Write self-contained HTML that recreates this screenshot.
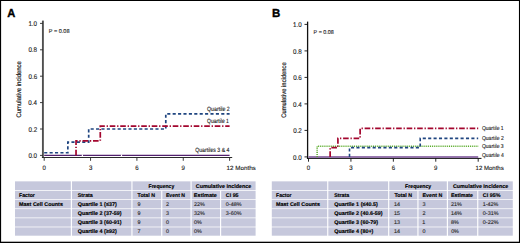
<!DOCTYPE html>
<html><head><meta charset="utf-8"><style>
html,body{margin:0;padding:0;background:#fff;}
body{width:520px;height:243px;overflow:hidden;}
svg{display:block;font-family:"Liberation Sans", sans-serif;text-rendering:geometricPrecision;}
</style></head><body>
<svg width="520" height="243" viewBox="0 0 520 243">
<rect x="0" y="0" width="520" height="243" fill="#fff"/>
<text x="7.17" y="17.05" font-size="11.6" font-weight="bold" fill="#000" stroke="#000" stroke-width="0.35" textLength="8.08" lengthAdjust="spacingAndGlyphs">A</text>
<line x1="42.90" y1="20.60" x2="42.90" y2="157.90" stroke="#505050" stroke-width="1.9" />
<line x1="41.95" y1="157.50" x2="232.20" y2="157.50" stroke="#2a2a2a" stroke-width="1.0" />
<line x1="40.00" y1="155.40" x2="42.90" y2="155.40" stroke="#2a2a2a" stroke-width="0.9" />
<text x="28.40" y="158.00" font-size="6.8" font-weight="normal" fill="#1a1a1a" stroke="#1a1a1a" stroke-width="0.12" textLength="8.70" lengthAdjust="spacingAndGlyphs">0.0</text>
<line x1="40.00" y1="129.00" x2="42.90" y2="129.00" stroke="#2a2a2a" stroke-width="0.9" />
<text x="28.47" y="131.60" font-size="6.8" font-weight="normal" fill="#1a1a1a" stroke="#1a1a1a" stroke-width="0.12" textLength="8.70" lengthAdjust="spacingAndGlyphs">0.2</text>
<line x1="40.00" y1="102.60" x2="42.90" y2="102.60" stroke="#2a2a2a" stroke-width="0.9" />
<text x="28.34" y="105.20" font-size="6.8" font-weight="normal" fill="#1a1a1a" stroke="#1a1a1a" stroke-width="0.12" textLength="8.70" lengthAdjust="spacingAndGlyphs">0.4</text>
<line x1="40.00" y1="76.20" x2="42.90" y2="76.20" stroke="#2a2a2a" stroke-width="0.9" />
<text x="28.44" y="78.80" font-size="6.8" font-weight="normal" fill="#1a1a1a" stroke="#1a1a1a" stroke-width="0.12" textLength="8.70" lengthAdjust="spacingAndGlyphs">0.6</text>
<line x1="40.00" y1="49.80" x2="42.90" y2="49.80" stroke="#2a2a2a" stroke-width="0.9" />
<text x="28.40" y="52.40" font-size="6.8" font-weight="normal" fill="#1a1a1a" stroke="#1a1a1a" stroke-width="0.12" textLength="8.70" lengthAdjust="spacingAndGlyphs">0.8</text>
<line x1="40.00" y1="23.40" x2="42.90" y2="23.40" stroke="#2a2a2a" stroke-width="0.9" />
<text x="28.40" y="26.00" font-size="6.8" font-weight="normal" fill="#1a1a1a" stroke="#1a1a1a" stroke-width="0.12" textLength="8.70" lengthAdjust="spacingAndGlyphs">1.0</text>
<line x1="44.20" y1="157.50" x2="44.20" y2="160.80" stroke="#2a2a2a" stroke-width="0.9" />
<text x="42.51" y="170.20" font-size="6.4" font-weight="normal" fill="#1a1a1a" stroke="#1a1a1a" stroke-width="0.12" textLength="3.38" lengthAdjust="spacingAndGlyphs">0</text>
<line x1="90.55" y1="157.50" x2="90.55" y2="160.80" stroke="#2a2a2a" stroke-width="0.9" />
<text x="88.88" y="170.20" font-size="6.4" font-weight="normal" fill="#1a1a1a" stroke="#1a1a1a" stroke-width="0.12" textLength="3.38" lengthAdjust="spacingAndGlyphs">3</text>
<line x1="136.90" y1="157.50" x2="136.90" y2="160.80" stroke="#2a2a2a" stroke-width="0.9" />
<text x="135.20" y="170.20" font-size="6.4" font-weight="normal" fill="#1a1a1a" stroke="#1a1a1a" stroke-width="0.12" textLength="3.38" lengthAdjust="spacingAndGlyphs">6</text>
<line x1="183.25" y1="157.50" x2="183.25" y2="160.80" stroke="#2a2a2a" stroke-width="0.9" />
<text x="181.56" y="170.20" font-size="6.4" font-weight="normal" fill="#1a1a1a" stroke="#1a1a1a" stroke-width="0.12" textLength="3.38" lengthAdjust="spacingAndGlyphs">9</text>
<line x1="229.60" y1="157.50" x2="229.60" y2="160.80" stroke="#2a2a2a" stroke-width="0.9" />
<text x="226.58" y="170.10" font-size="6.0" font-weight="normal" fill="#1a1a1a" stroke="#1a1a1a" stroke-width="0.12" textLength="29.18" lengthAdjust="spacingAndGlyphs">12 Months</text>
<text x="0" y="0" font-size="6.6" fill="#1a1a1a" stroke="#1a1a1a" stroke-width="0.18" textLength="56.26" lengthAdjust="spacingAndGlyphs" transform="translate(21.30,117.45) rotate(-90)">Cumulative incidence</text>
<text x="48.81" y="33.30" font-size="5.6" font-weight="normal" fill="#2a2a2a" stroke="#2a2a2a" stroke-width="0.12" textLength="20.77" lengthAdjust="spacingAndGlyphs">P = 0.08</text>
<path d="M44.20,155.40 H229.60" fill="none" stroke="#52206e" stroke-width="1.3" />
<path d="M44.20,152.76 H67.84 V142.20 H88.70 V129.00 H165.79 V113.82 H229.60" fill="none" stroke="#1f4580" stroke-width="1.7" stroke-dasharray="3.1 2.3"/>
<path d="M76.03,155.40 H76.03 V140.88 H100.28 V126.10 H229.60" fill="none" stroke="#a3062e" stroke-width="1.7" stroke-dasharray="5.6 1.8 1.3 1.8"/>
<rect x="81.80" y="154.40" width="1.20" height="2.00" fill="#fff"/>
<rect x="120.90" y="154.40" width="1.20" height="2.00" fill="#fff"/>
<text x="207.01" y="110.80" font-size="6.2" font-weight="normal" fill="#1a1a1a" stroke="#1a1a1a" stroke-width="0.12" textLength="22.80" lengthAdjust="spacingAndGlyphs">Quartile 2</text>
<text x="207.02" y="123.20" font-size="6.2" font-weight="normal" fill="#1a1a1a" stroke="#1a1a1a" stroke-width="0.12" textLength="21.88" lengthAdjust="spacingAndGlyphs">Quartile 1</text>
<text x="195.22" y="152.30" font-size="6.2" font-weight="normal" fill="#1a1a1a" stroke="#1a1a1a" stroke-width="0.12" textLength="34.18" lengthAdjust="spacingAndGlyphs">Quartiles 3 &amp; 4</text>
<text x="272.10" y="17.05" font-size="11.6" font-weight="bold" fill="#000" stroke="#000" stroke-width="0.35" textLength="8.29" lengthAdjust="spacingAndGlyphs">B</text>
<line x1="307.60" y1="21.60" x2="307.60" y2="158.90" stroke="#111" stroke-width="1.3" />
<line x1="306.95" y1="158.40" x2="481.50" y2="158.40" stroke="#111" stroke-width="1.0" />
<line x1="304.50" y1="156.90" x2="307.60" y2="156.90" stroke="#111" stroke-width="0.9" />
<text x="293.10" y="159.50" font-size="6.8" font-weight="normal" fill="#1a1a1a" stroke="#1a1a1a" stroke-width="0.12" textLength="8.70" lengthAdjust="spacingAndGlyphs">0.0</text>
<line x1="304.50" y1="130.40" x2="307.60" y2="130.40" stroke="#111" stroke-width="0.9" />
<text x="293.17" y="133.00" font-size="6.8" font-weight="normal" fill="#1a1a1a" stroke="#1a1a1a" stroke-width="0.12" textLength="8.70" lengthAdjust="spacingAndGlyphs">0.2</text>
<line x1="304.50" y1="103.90" x2="307.60" y2="103.90" stroke="#111" stroke-width="0.9" />
<text x="293.04" y="106.50" font-size="6.8" font-weight="normal" fill="#1a1a1a" stroke="#1a1a1a" stroke-width="0.12" textLength="8.70" lengthAdjust="spacingAndGlyphs">0.4</text>
<line x1="304.50" y1="77.40" x2="307.60" y2="77.40" stroke="#111" stroke-width="0.9" />
<text x="293.14" y="80.00" font-size="6.8" font-weight="normal" fill="#1a1a1a" stroke="#1a1a1a" stroke-width="0.12" textLength="8.70" lengthAdjust="spacingAndGlyphs">0.6</text>
<line x1="304.50" y1="50.90" x2="307.60" y2="50.90" stroke="#111" stroke-width="0.9" />
<text x="293.10" y="53.50" font-size="6.8" font-weight="normal" fill="#1a1a1a" stroke="#1a1a1a" stroke-width="0.12" textLength="8.70" lengthAdjust="spacingAndGlyphs">0.8</text>
<line x1="304.50" y1="24.40" x2="307.60" y2="24.40" stroke="#111" stroke-width="0.9" />
<text x="293.10" y="27.00" font-size="6.8" font-weight="normal" fill="#1a1a1a" stroke="#1a1a1a" stroke-width="0.12" textLength="8.70" lengthAdjust="spacingAndGlyphs">1.0</text>
<line x1="308.50" y1="158.40" x2="308.50" y2="161.70" stroke="#111" stroke-width="0.9" />
<text x="306.81" y="170.20" font-size="6.4" font-weight="normal" fill="#1a1a1a" stroke="#1a1a1a" stroke-width="0.12" textLength="3.38" lengthAdjust="spacingAndGlyphs">0</text>
<line x1="350.93" y1="158.40" x2="350.93" y2="161.70" stroke="#111" stroke-width="0.9" />
<text x="349.25" y="170.20" font-size="6.4" font-weight="normal" fill="#1a1a1a" stroke="#1a1a1a" stroke-width="0.12" textLength="3.38" lengthAdjust="spacingAndGlyphs">3</text>
<line x1="393.35" y1="158.40" x2="393.35" y2="161.70" stroke="#111" stroke-width="0.9" />
<text x="391.65" y="170.20" font-size="6.4" font-weight="normal" fill="#1a1a1a" stroke="#1a1a1a" stroke-width="0.12" textLength="3.38" lengthAdjust="spacingAndGlyphs">6</text>
<line x1="435.77" y1="158.40" x2="435.77" y2="161.70" stroke="#111" stroke-width="0.9" />
<text x="434.09" y="170.20" font-size="6.4" font-weight="normal" fill="#1a1a1a" stroke="#1a1a1a" stroke-width="0.12" textLength="3.38" lengthAdjust="spacingAndGlyphs">9</text>
<line x1="478.20" y1="158.40" x2="478.20" y2="161.70" stroke="#111" stroke-width="0.9" />
<text x="475.60" y="170.10" font-size="6.0" font-weight="normal" fill="#1a1a1a" stroke="#1a1a1a" stroke-width="0.12" textLength="28.16" lengthAdjust="spacingAndGlyphs">12 Months</text>
<text x="0" y="0" font-size="6.6" fill="#1a1a1a" stroke="#1a1a1a" stroke-width="0.18" textLength="55.66" lengthAdjust="spacingAndGlyphs" transform="translate(286.30,117.84) rotate(-90)">Cumulative incidence</text>
<text x="313.62" y="34.40" font-size="5.6" font-weight="normal" fill="#2a2a2a" stroke="#2a2a2a" stroke-width="0.12" textLength="20.25" lengthAdjust="spacingAndGlyphs">P = 0.08</text>
<path d="M308.50,156.90 H478.20" fill="none" stroke="#744a93" stroke-width="1.5" />
<path d="M317.13,156.90 H317.13 V146.30 H478.20" fill="none" stroke="#5aab2a" stroke-width="1.5" stroke-dasharray="1 0.9"/>
<path d="M349.51,156.90 H349.51 V147.62 H420.22 V138.35 H478.20" fill="none" stroke="#1f4580" stroke-width="1.6" stroke-dasharray="3.1 2.3"/>
<path d="M330.14,156.90 H330.14 V147.62 H337.91 V138.35 H360.12 V128.41 H478.20" fill="none" stroke="#a3062e" stroke-width="1.7" stroke-dasharray="5.6 1.8 1.3 1.8"/>
<text x="481.92" y="130.00" font-size="5.8" font-weight="normal" fill="#1a1a1a" stroke="#1a1a1a" stroke-width="0.12" textLength="21.68" lengthAdjust="spacingAndGlyphs">Quartile 1</text>
<text x="481.92" y="139.80" font-size="5.8" font-weight="normal" fill="#1a1a1a" stroke="#1a1a1a" stroke-width="0.12" textLength="21.78" lengthAdjust="spacingAndGlyphs">Quartile 2</text>
<text x="481.92" y="147.80" font-size="5.8" font-weight="normal" fill="#1a1a1a" stroke="#1a1a1a" stroke-width="0.12" textLength="21.75" lengthAdjust="spacingAndGlyphs">Quartile 3</text>
<text x="481.92" y="156.60" font-size="5.8" font-weight="normal" fill="#1a1a1a" stroke="#1a1a1a" stroke-width="0.12" textLength="21.88" lengthAdjust="spacingAndGlyphs">Quartile 4</text>
<rect x="15.00" y="181.35" width="55.83" height="8.78" fill="#c6c8dc"/>
<rect x="71.98" y="181.35" width="59.40" height="8.78" fill="#c6c8dc"/>
<rect x="132.52" y="181.35" width="58.00" height="8.78" fill="#c6c8dc"/>
<rect x="191.67" y="181.35" width="63.93" height="8.78" fill="#c6c8dc"/>
<rect x="15.00" y="190.88" width="55.83" height="8.37" fill="#c6c8dc"/>
<rect x="71.98" y="190.88" width="59.40" height="8.37" fill="#c6c8dc"/>
<rect x="132.52" y="190.88" width="28.65" height="8.37" fill="#c6c8dc"/>
<rect x="162.32" y="190.88" width="28.20" height="8.37" fill="#c6c8dc"/>
<rect x="191.67" y="190.88" width="28.35" height="8.37" fill="#c6c8dc"/>
<rect x="221.17" y="190.88" width="34.43" height="8.37" fill="#c6c8dc"/>
<rect x="15.00" y="200.00" width="55.83" height="8.37" fill="#c6c8dc"/>
<rect x="71.98" y="200.00" width="59.40" height="8.37" fill="#c6c8dc"/>
<rect x="132.52" y="200.00" width="28.65" height="8.37" fill="#c6c8dc"/>
<rect x="162.32" y="200.00" width="28.20" height="8.37" fill="#c6c8dc"/>
<rect x="191.67" y="200.00" width="28.35" height="8.37" fill="#c6c8dc"/>
<rect x="221.17" y="200.00" width="34.43" height="8.37" fill="#c6c8dc"/>
<rect x="15.00" y="209.12" width="55.83" height="8.37" fill="#c6c8dc"/>
<rect x="71.98" y="209.12" width="59.40" height="8.37" fill="#c6c8dc"/>
<rect x="132.52" y="209.12" width="28.65" height="8.37" fill="#c6c8dc"/>
<rect x="162.32" y="209.12" width="28.20" height="8.37" fill="#c6c8dc"/>
<rect x="191.67" y="209.12" width="28.35" height="8.37" fill="#c6c8dc"/>
<rect x="221.17" y="209.12" width="34.43" height="8.37" fill="#c6c8dc"/>
<rect x="15.00" y="218.24" width="55.83" height="8.37" fill="#c6c8dc"/>
<rect x="71.98" y="218.24" width="59.40" height="8.37" fill="#c6c8dc"/>
<rect x="132.52" y="218.24" width="28.65" height="8.37" fill="#c6c8dc"/>
<rect x="162.32" y="218.24" width="28.20" height="8.37" fill="#c6c8dc"/>
<rect x="191.67" y="218.24" width="28.35" height="8.37" fill="#c6c8dc"/>
<rect x="221.17" y="218.24" width="34.43" height="8.37" fill="#c6c8dc"/>
<rect x="15.00" y="227.35" width="55.83" height="8.34" fill="#c6c8dc"/>
<rect x="71.98" y="227.35" width="59.40" height="8.34" fill="#c6c8dc"/>
<rect x="132.52" y="227.35" width="28.65" height="8.34" fill="#c6c8dc"/>
<rect x="162.32" y="227.35" width="28.20" height="8.34" fill="#c6c8dc"/>
<rect x="191.67" y="227.35" width="28.35" height="8.34" fill="#c6c8dc"/>
<rect x="221.17" y="227.35" width="34.43" height="8.34" fill="#c6c8dc"/>
<text x="148.52" y="187.70" font-size="5.4" font-weight="bold" fill="#000" stroke="#000" stroke-width="0.15" textLength="25.77" lengthAdjust="spacingAndGlyphs">Frequency</text>
<text x="195.83" y="187.70" font-size="5.4" font-weight="bold" fill="#000" stroke="#000" stroke-width="0.15" textLength="55.51" lengthAdjust="spacingAndGlyphs">Cumulative Incidence</text>
<text x="19.12" y="196.80" font-size="5.4" font-weight="bold" fill="#000" stroke="#000" stroke-width="0.15" textLength="15.72" lengthAdjust="spacingAndGlyphs">Factor</text>
<text x="77.79" y="196.80" font-size="5.4" font-weight="bold" fill="#000" stroke="#000" stroke-width="0.15" textLength="15.03" lengthAdjust="spacingAndGlyphs">Strata</text>
<text x="137.60" y="196.80" font-size="5.4" font-weight="bold" fill="#000" stroke="#000" stroke-width="0.15" textLength="17.42" lengthAdjust="spacingAndGlyphs">Total N</text>
<text x="165.92" y="196.80" font-size="5.4" font-weight="bold" fill="#000" stroke="#000" stroke-width="0.15" textLength="19.08" lengthAdjust="spacingAndGlyphs">Event N</text>
<text x="193.89" y="196.80" font-size="5.4" font-weight="bold" fill="#000" stroke="#000" stroke-width="0.15" textLength="23.07" lengthAdjust="spacingAndGlyphs">Estimate</text>
<text x="225.84" y="196.80" font-size="5.4" font-weight="bold" fill="#000" stroke="#000" stroke-width="0.15" textLength="12.75" lengthAdjust="spacingAndGlyphs">CI 95</text>
<text x="19.10" y="205.90" font-size="5.4" font-weight="bold" fill="#000" stroke="#000" stroke-width="0.15" textLength="43.80" lengthAdjust="spacingAndGlyphs">Mast Cell Counts</text>
<text x="77.73" y="205.90" font-size="5.4" font-weight="bold" fill="#000" stroke="#000" stroke-width="0.15" textLength="38.98" lengthAdjust="spacingAndGlyphs">Quartile 1 (≤37)</text>
<text x="137.41" y="205.90" font-size="5.4" font-weight="normal" fill="#262626" stroke="#262626" stroke-width="0.12" textLength="3.00" lengthAdjust="spacingAndGlyphs">9</text>
<text x="165.98" y="205.90" font-size="5.4" font-weight="normal" fill="#262626" stroke="#262626" stroke-width="0.12" textLength="3.00" lengthAdjust="spacingAndGlyphs">2</text>
<text x="193.98" y="205.90" font-size="5.4" font-weight="normal" fill="#262626" stroke="#262626" stroke-width="0.12" textLength="10.81" lengthAdjust="spacingAndGlyphs">22%</text>
<text x="225.83" y="205.90" font-size="5.4" font-weight="normal" fill="#262626" stroke="#262626" stroke-width="0.12" textLength="15.61" lengthAdjust="spacingAndGlyphs">0-48%</text>
<text x="77.73" y="215.00" font-size="5.4" font-weight="bold" fill="#000" stroke="#000" stroke-width="0.15" textLength="43.82" lengthAdjust="spacingAndGlyphs">Quartile 2 (37-59)</text>
<text x="137.41" y="215.00" font-size="5.4" font-weight="normal" fill="#262626" stroke="#262626" stroke-width="0.12" textLength="3.00" lengthAdjust="spacingAndGlyphs">9</text>
<text x="166.03" y="215.00" font-size="5.4" font-weight="normal" fill="#262626" stroke="#262626" stroke-width="0.12" textLength="3.00" lengthAdjust="spacingAndGlyphs">3</text>
<text x="194.03" y="215.00" font-size="5.4" font-weight="normal" fill="#262626" stroke="#262626" stroke-width="0.12" textLength="10.81" lengthAdjust="spacingAndGlyphs">32%</text>
<text x="225.83" y="215.00" font-size="5.4" font-weight="normal" fill="#262626" stroke="#262626" stroke-width="0.12" textLength="15.61" lengthAdjust="spacingAndGlyphs">3-60%</text>
<text x="77.73" y="224.10" font-size="5.4" font-weight="bold" fill="#000" stroke="#000" stroke-width="0.15" textLength="43.82" lengthAdjust="spacingAndGlyphs">Quartile 3 (60-91)</text>
<text x="137.41" y="224.10" font-size="5.4" font-weight="normal" fill="#262626" stroke="#262626" stroke-width="0.12" textLength="3.00" lengthAdjust="spacingAndGlyphs">9</text>
<text x="166.03" y="224.10" font-size="5.4" font-weight="normal" fill="#262626" stroke="#262626" stroke-width="0.12" textLength="3.00" lengthAdjust="spacingAndGlyphs">0</text>
<text x="194.03" y="224.10" font-size="5.4" font-weight="normal" fill="#262626" stroke="#262626" stroke-width="0.12" textLength="7.80" lengthAdjust="spacingAndGlyphs">0%</text>
<text x="77.73" y="233.20" font-size="5.4" font-weight="bold" fill="#000" stroke="#000" stroke-width="0.15" textLength="38.98" lengthAdjust="spacingAndGlyphs">Quartile 4 (≥92)</text>
<text x="137.38" y="233.20" font-size="5.4" font-weight="normal" fill="#262626" stroke="#262626" stroke-width="0.12" textLength="3.00" lengthAdjust="spacingAndGlyphs">7</text>
<text x="166.03" y="233.20" font-size="5.4" font-weight="normal" fill="#262626" stroke="#262626" stroke-width="0.12" textLength="3.00" lengthAdjust="spacingAndGlyphs">0</text>
<text x="194.03" y="233.20" font-size="5.4" font-weight="normal" fill="#262626" stroke="#262626" stroke-width="0.12" textLength="7.80" lengthAdjust="spacingAndGlyphs">0%</text>
<rect x="271.80" y="181.35" width="55.38" height="8.78" fill="#c6c8dc"/>
<rect x="328.32" y="181.35" width="59.80" height="8.78" fill="#c6c8dc"/>
<rect x="389.27" y="181.35" width="57.55" height="8.78" fill="#c6c8dc"/>
<rect x="447.97" y="181.35" width="64.82" height="8.78" fill="#c6c8dc"/>
<rect x="271.80" y="190.88" width="55.38" height="8.37" fill="#c6c8dc"/>
<rect x="328.32" y="190.88" width="59.80" height="8.37" fill="#c6c8dc"/>
<rect x="389.27" y="190.88" width="28.10" height="8.37" fill="#c6c8dc"/>
<rect x="418.52" y="190.88" width="28.30" height="8.37" fill="#c6c8dc"/>
<rect x="447.97" y="190.88" width="29.20" height="8.37" fill="#c6c8dc"/>
<rect x="478.32" y="190.88" width="34.47" height="8.37" fill="#c6c8dc"/>
<rect x="271.80" y="200.00" width="55.38" height="8.37" fill="#c6c8dc"/>
<rect x="328.32" y="200.00" width="59.80" height="8.37" fill="#c6c8dc"/>
<rect x="389.27" y="200.00" width="28.10" height="8.37" fill="#c6c8dc"/>
<rect x="418.52" y="200.00" width="28.30" height="8.37" fill="#c6c8dc"/>
<rect x="447.97" y="200.00" width="29.20" height="8.37" fill="#c6c8dc"/>
<rect x="478.32" y="200.00" width="34.47" height="8.37" fill="#c6c8dc"/>
<rect x="271.80" y="209.12" width="55.38" height="8.37" fill="#c6c8dc"/>
<rect x="328.32" y="209.12" width="59.80" height="8.37" fill="#c6c8dc"/>
<rect x="389.27" y="209.12" width="28.10" height="8.37" fill="#c6c8dc"/>
<rect x="418.52" y="209.12" width="28.30" height="8.37" fill="#c6c8dc"/>
<rect x="447.97" y="209.12" width="29.20" height="8.37" fill="#c6c8dc"/>
<rect x="478.32" y="209.12" width="34.47" height="8.37" fill="#c6c8dc"/>
<rect x="271.80" y="218.24" width="55.38" height="8.37" fill="#c6c8dc"/>
<rect x="328.32" y="218.24" width="59.80" height="8.37" fill="#c6c8dc"/>
<rect x="389.27" y="218.24" width="28.10" height="8.37" fill="#c6c8dc"/>
<rect x="418.52" y="218.24" width="28.30" height="8.37" fill="#c6c8dc"/>
<rect x="447.97" y="218.24" width="29.20" height="8.37" fill="#c6c8dc"/>
<rect x="478.32" y="218.24" width="34.47" height="8.37" fill="#c6c8dc"/>
<rect x="271.80" y="227.35" width="55.38" height="8.34" fill="#c6c8dc"/>
<rect x="328.32" y="227.35" width="59.80" height="8.34" fill="#c6c8dc"/>
<rect x="389.27" y="227.35" width="28.10" height="8.34" fill="#c6c8dc"/>
<rect x="418.52" y="227.35" width="28.30" height="8.34" fill="#c6c8dc"/>
<rect x="447.97" y="227.35" width="29.20" height="8.34" fill="#c6c8dc"/>
<rect x="478.32" y="227.35" width="34.47" height="8.34" fill="#c6c8dc"/>
<text x="405.11" y="187.70" font-size="5.4" font-weight="bold" fill="#000" stroke="#000" stroke-width="0.15" textLength="26.07" lengthAdjust="spacingAndGlyphs">Frequency</text>
<text x="452.94" y="187.70" font-size="5.4" font-weight="bold" fill="#000" stroke="#000" stroke-width="0.15" textLength="55.21" lengthAdjust="spacingAndGlyphs">Cumulative Incidence</text>
<text x="276.12" y="196.80" font-size="5.4" font-weight="bold" fill="#000" stroke="#000" stroke-width="0.15" textLength="15.41" lengthAdjust="spacingAndGlyphs">Factor</text>
<text x="334.29" y="196.80" font-size="5.4" font-weight="bold" fill="#000" stroke="#000" stroke-width="0.15" textLength="14.93" lengthAdjust="spacingAndGlyphs">Strata</text>
<text x="394.40" y="196.80" font-size="5.4" font-weight="bold" fill="#000" stroke="#000" stroke-width="0.15" textLength="17.62" lengthAdjust="spacingAndGlyphs">Total N</text>
<text x="422.40" y="196.80" font-size="5.4" font-weight="bold" fill="#000" stroke="#000" stroke-width="0.15" textLength="19.91" lengthAdjust="spacingAndGlyphs">Event N</text>
<text x="451.01" y="196.80" font-size="5.4" font-weight="bold" fill="#000" stroke="#000" stroke-width="0.15" textLength="22.05" lengthAdjust="spacingAndGlyphs">Estimate</text>
<text x="482.83" y="196.80" font-size="5.4" font-weight="bold" fill="#000" stroke="#000" stroke-width="0.15" textLength="17.65" lengthAdjust="spacingAndGlyphs">CI 95%</text>
<text x="276.10" y="205.90" font-size="5.4" font-weight="bold" fill="#000" stroke="#000" stroke-width="0.15" textLength="43.80" lengthAdjust="spacingAndGlyphs">Mast Cell Counts</text>
<text x="334.23" y="205.90" font-size="5.4" font-weight="bold" fill="#000" stroke="#000" stroke-width="0.15" textLength="43.48" lengthAdjust="spacingAndGlyphs">Quartile 1 (≤40.5)</text>
<text x="394.05" y="205.90" font-size="5.4" font-weight="normal" fill="#262626" stroke="#262626" stroke-width="0.12" textLength="6.01" lengthAdjust="spacingAndGlyphs">14</text>
<text x="422.53" y="205.90" font-size="5.4" font-weight="normal" fill="#262626" stroke="#262626" stroke-width="0.12" textLength="3.00" lengthAdjust="spacingAndGlyphs">3</text>
<text x="451.08" y="205.90" font-size="5.4" font-weight="normal" fill="#262626" stroke="#262626" stroke-width="0.12" textLength="10.81" lengthAdjust="spacingAndGlyphs">21%</text>
<text x="482.65" y="205.90" font-size="5.4" font-weight="normal" fill="#262626" stroke="#262626" stroke-width="0.12" textLength="15.61" lengthAdjust="spacingAndGlyphs">1-42%</text>
<text x="334.23" y="215.00" font-size="5.4" font-weight="bold" fill="#000" stroke="#000" stroke-width="0.15" textLength="48.32" lengthAdjust="spacingAndGlyphs">Quartile 2 (40.6-59)</text>
<text x="394.05" y="215.00" font-size="5.4" font-weight="normal" fill="#262626" stroke="#262626" stroke-width="0.12" textLength="6.01" lengthAdjust="spacingAndGlyphs">15</text>
<text x="422.48" y="215.00" font-size="5.4" font-weight="normal" fill="#262626" stroke="#262626" stroke-width="0.12" textLength="3.00" lengthAdjust="spacingAndGlyphs">2</text>
<text x="450.95" y="215.00" font-size="5.4" font-weight="normal" fill="#262626" stroke="#262626" stroke-width="0.12" textLength="10.81" lengthAdjust="spacingAndGlyphs">14%</text>
<text x="482.83" y="215.00" font-size="5.4" font-weight="normal" fill="#262626" stroke="#262626" stroke-width="0.12" textLength="15.61" lengthAdjust="spacingAndGlyphs">0-31%</text>
<text x="334.23" y="224.10" font-size="5.4" font-weight="bold" fill="#000" stroke="#000" stroke-width="0.15" textLength="43.82" lengthAdjust="spacingAndGlyphs">Quartile 3 (60-79)</text>
<text x="394.05" y="224.10" font-size="5.4" font-weight="normal" fill="#262626" stroke="#262626" stroke-width="0.12" textLength="6.01" lengthAdjust="spacingAndGlyphs">13</text>
<text x="422.35" y="224.10" font-size="5.4" font-weight="normal" fill="#262626" stroke="#262626" stroke-width="0.12" textLength="3.00" lengthAdjust="spacingAndGlyphs">1</text>
<text x="451.11" y="224.10" font-size="5.4" font-weight="normal" fill="#262626" stroke="#262626" stroke-width="0.12" textLength="7.80" lengthAdjust="spacingAndGlyphs">8%</text>
<text x="482.83" y="224.10" font-size="5.4" font-weight="normal" fill="#262626" stroke="#262626" stroke-width="0.12" textLength="15.61" lengthAdjust="spacingAndGlyphs">0-22%</text>
<text x="334.23" y="233.20" font-size="5.4" font-weight="bold" fill="#000" stroke="#000" stroke-width="0.15" textLength="39.17" lengthAdjust="spacingAndGlyphs">Quartile 4 (80+)</text>
<text x="394.05" y="233.20" font-size="5.4" font-weight="normal" fill="#262626" stroke="#262626" stroke-width="0.12" textLength="6.01" lengthAdjust="spacingAndGlyphs">14</text>
<text x="422.53" y="233.20" font-size="5.4" font-weight="normal" fill="#262626" stroke="#262626" stroke-width="0.12" textLength="3.00" lengthAdjust="spacingAndGlyphs">0</text>
<text x="451.13" y="233.20" font-size="5.4" font-weight="normal" fill="#262626" stroke="#262626" stroke-width="0.12" textLength="7.80" lengthAdjust="spacingAndGlyphs">0%</text>
<rect x="0" y="0" width="520" height="1" fill="#000"/>
<rect x="0" y="0" width="1.1" height="243" fill="#000"/>
<rect x="518.95" y="0" width="1.05" height="243" fill="#000"/>
<rect x="0" y="241.7" width="520" height="1.3" fill="#000"/>
</svg>
</body></html>
